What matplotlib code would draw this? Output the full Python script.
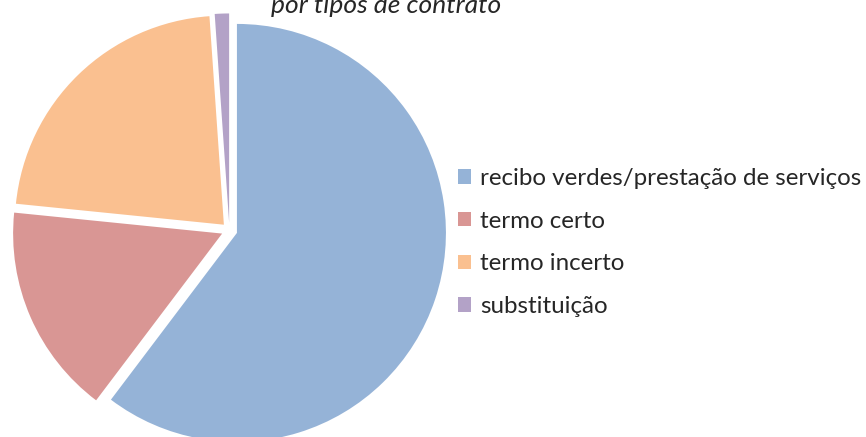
import matplotlib
matplotlib.use("Agg")
import matplotlib.pyplot as plt

categories = ["recibo verdes/prestação de serviços", "termo certo", "termo incerto", "substituição"]
values = [60.3, 16.3, 22.3, 1.1]
colors = ["#95B3D7", "#D99694", "#FAC090", "#B3A2C7"]
title_line = "por tipos de contrato"

W, H = 866, 437
fig = plt.figure(figsize=(W / 100, H / 100), dpi=100)

cx, cy, r = 229.4, 437 - 230.4, 209.0
lim = 1.2
half = r * lim
ax = fig.add_axes([(cx - half) / W, (cy - half) / H, 2 * half / W, 2 * half / H])
wedges, _ = ax.pie(values, colors=colors, startangle=90, counterclock=False,
                   explode=[0.038] * len(values), radius=1.0,
                   wedgeprops=dict(linewidth=0))
ax.set_xlim(-lim, lim)
ax.set_ylim(-lim, lim)
ax.set_aspect("equal")
ax.axis("off")

fig.text(386 / W, (437 - 12.7) / H, title_line, ha="center", va="baseline",
         fontsize=19, style="italic", family="Lato", color="#262626")

leg = fig.legend(wedges, categories, loc="center left",
                 bbox_to_anchor=(458 / W, 194.5 / H), frameon=False,
                 borderpad=0, borderaxespad=0,
                 prop=dict(family="Lato", size=17.4),
                 handlelength=0.55, handleheight=0.55, handletextpad=0.38,
                 labelspacing=0.9)
for t in leg.get_texts():
    t.set_color("#262626")

fig.savefig("out.png", dpi=100)
